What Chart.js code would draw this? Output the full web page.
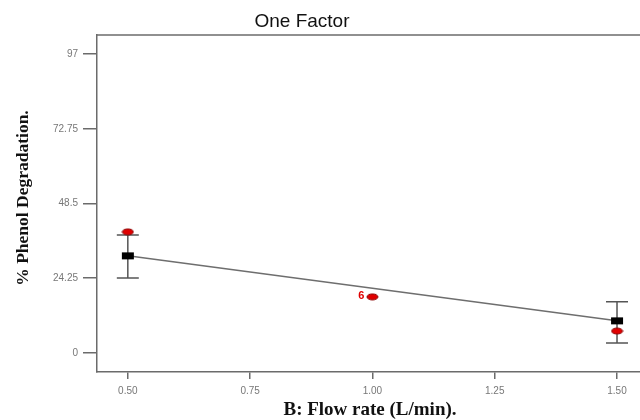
<!DOCTYPE html>
<html>
<head>
<meta charset="utf-8">
<script src="https://cdn.jsdelivr.net/npm/chart.js@4.4.0/dist/chart.umd.min.js"></script>
<style>
  body { margin: 0; background: #fff; }
  #wrap { width: 640px; height: 420px; }
</style>
</head>
<body>
<div id="wrap"><canvas id="myChart" width="640" height="420"></canvas></div>
<script>
// flow rate levels and values
var flowRate = [0.5, 1.0, 1.5];
var predX = [0.5, 1.5];
var predicted = [31.5, 10.4];
var errLow = [24.3, 3.2];
var errHigh = [38.3, 16.6];
var observed = [39.3, 18.2, 7.1];
var pointLabels = ['', '6', ''];
var xTicks = [0.5, 0.75, 1.0, 1.25, 1.5];
var yTicks = [0, 24.25, 48.5, 72.75, 97];

function makeMarker(w, h, fill, stroke, oval) {
    var c = document.createElement('canvas');
    c.width = w + 2; c.height = h + 2;
    var g = c.getContext('2d');
    g.fillStyle = fill;
    g.beginPath();
    if (oval) g.ellipse(c.width / 2, c.height / 2, w / 2, h / 2, 0, 0, Math.PI * 2);
    else g.rect(1, 1, w, h);
    g.fill();
    if (stroke) { g.strokeStyle = stroke; g.lineWidth = 1; g.stroke(); }
    return c;
}
var squareMark = makeMarker(12, 7, '#000', null, false);
var redMark = makeMarker(11, 6, '#e00000', '#8a0000', true);

var axisColor = '#6b6b6b';

var extras = {
    id: 'extras',
    beforeDatasetsDraw: function(chart) {
        var ctx = chart.ctx, xs = chart.scales.x, ys = chart.scales.y;
        ctx.save();
        ctx.strokeStyle = '#555';
        ctx.lineWidth = 1.5;
        for (var i = 0; i < predX.length; i++) {
            var px = xs.getPixelForValue(predX[i]);
            var lo = ys.getPixelForValue(errLow[i]);
            var hi = ys.getPixelForValue(errHigh[i]);
            ctx.beginPath();
            ctx.moveTo(px, lo); ctx.lineTo(px, hi);
            ctx.moveTo(px - 11, lo); ctx.lineTo(px + 11, lo);
            ctx.moveTo(px - 11, hi); ctx.lineTo(px + 11, hi);
            ctx.stroke();
        }
        ctx.restore();
    },
    afterDraw: function(chart) {
        var ctx = chart.ctx, a = chart.chartArea, xs = chart.scales.x, ys = chart.scales.y;
        ctx.save();
        // top frame line
        ctx.strokeStyle = axisColor;
        ctx.lineWidth = 1.5;
        ctx.beginPath();
        ctx.moveTo(a.left, a.top); ctx.lineTo(a.right, a.top);
        ctx.stroke();
        // title
        ctx.fillStyle = '#111';
        ctx.font = '19px "Liberation Sans", Arial, sans-serif';
        ctx.textAlign = 'center';
        ctx.textBaseline = 'middle';
        ctx.fillText('One Factor', 302, 22);
        // axis titles
        ctx.font = 'bold 19px "Liberation Serif", "Times New Roman", serif';
        ctx.fillText('B: Flow rate (L/min).', 370, 410);
        ctx.save();
        ctx.translate(23, 198);
        ctx.rotate(-Math.PI / 2);
        ctx.font = 'bold 17.5px "Liberation Serif", "Times New Roman", serif';
        ctx.fillText('% Phenol Degradation.', 0, 0);
        ctx.restore();
        // point labels
        ctx.fillStyle = '#e00000';
        ctx.font = 'bold 11px "Liberation Sans", Arial, sans-serif';
        ctx.textAlign = 'right';
        for (var i = 0; i < flowRate.length; i++) {
            if (!pointLabels[i]) continue;
            ctx.fillText(pointLabels[i], xs.getPixelForValue(flowRate[i]) - 8, ys.getPixelForValue(observed[i]) - 1);
        }
        ctx.restore();
    }
};

var config = {
    type: 'scatter',
    data: {
        datasets: [{
            type: 'line',
            data: predX.map((x, i) => ({x: x, y: predicted[i]})),
            borderColor: '#6e6e6e',
            borderWidth: 1.5,
            pointRadius: 0,
            order: 3
        }, {
            data: predX.map((x, i) => ({x: x, y: predicted[i]})),
            pointStyle: squareMark,
            pointRadius: 6,
            order: 2
        }, {
            data: flowRate.map((x, i) => ({x: x, y: observed[i]})),
            pointStyle: redMark,
            pointRadius: 6,
            order: 1
        }]
    },
    options: {
        responsive: false,
        animation: false,
        events: [],
        layout: {autoPadding: false, padding: {top: 35, right: 0, bottom: 0, left: 0}},
        plugins: {legend: {display: false}, tooltip: {enabled: false}, title: {display: false}},
        scales: {
            x: {
                type: 'linear',
                min: 0.437, max: 1.547,
                afterBuildTicks: (s) => { s.ticks = xTicks.map(v => ({value: v})); },
                afterFit: (s) => { s.height = 48; s.paddingLeft = 0; s.paddingRight = 0; },
                ticks: {
                    callback: (v) => v.toFixed(2),
                    color: '#777',
                    font: {size: 10, family: '"Liberation Sans", Arial, sans-serif'},
                    padding: 6,
                    maxRotation: 0
                },
                grid: {drawOnChartArea: false, drawTicks: true, tickLength: 7, color: axisColor, lineWidth: 1.5},
                border: {color: axisColor, width: 1.5}
            },
            y: {
                min: -6.2, max: 103.2,
                afterBuildTicks: (s) => { s.ticks = yTicks.map(v => ({value: v})); },
                afterFit: (s) => { s.width = 97; s.paddingTop = 0; s.paddingBottom = 0; },
                ticks: {
                    callback: (v) => String(v),
                    color: '#777',
                    font: {size: 10, family: '"Liberation Sans", Arial, sans-serif'},
                    padding: 5
                },
                grid: {drawOnChartArea: false, drawTicks: true, tickLength: 14, color: axisColor, lineWidth: 1.5},
                border: {color: axisColor, width: 1.5}
            }
        }
    },
    plugins: [extras]
};

var ctx = document.getElementById('myChart').getContext('2d');
var myChart = new Chart(ctx, config);
</script>
</body>
</html>
